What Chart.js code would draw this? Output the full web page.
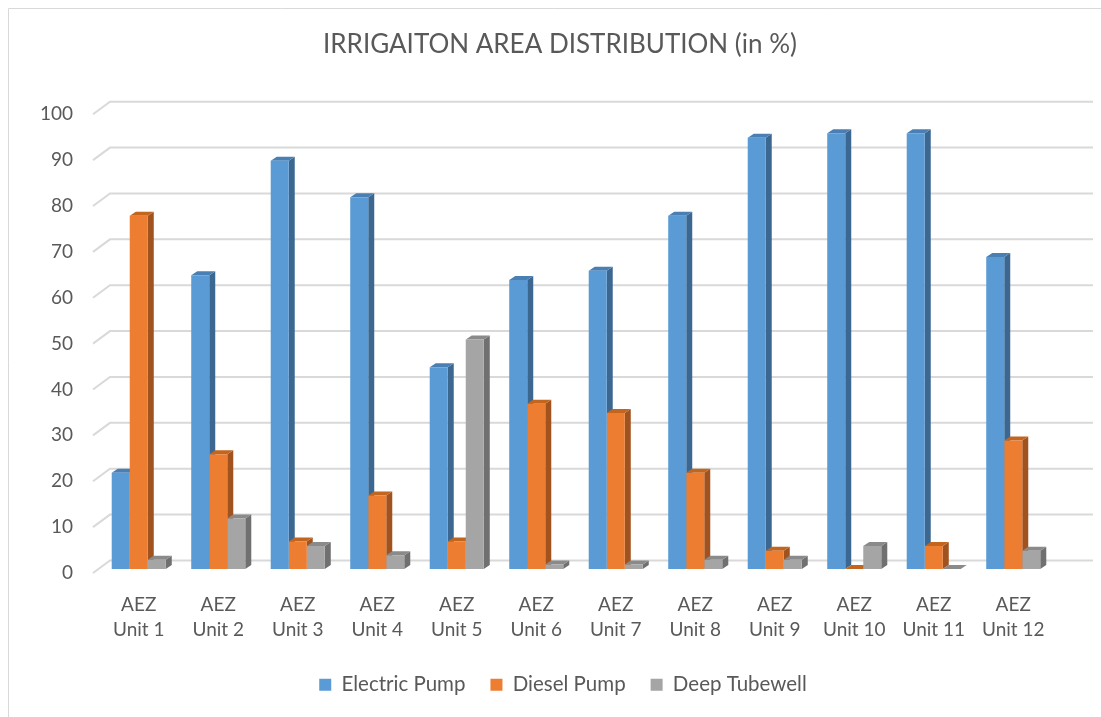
<!DOCTYPE html>
<html>
<head>
<meta charset="utf-8">
<script src="https://cdn.jsdelivr.net/npm/chart.js@4/dist/chart.umd.min.js"></script>
<style>
  html, body { margin: 0; padding: 0; background: #fff; }
  #wrap { width: 1101px; height: 717px; }
</style>
</head>
<body>
<div id="wrap"><canvas id="irrigationChart" width="1101" height="717"></canvas></div>
<script>
const units = ['Unit 1', 'Unit 2', 'Unit 3', 'Unit 4', 'Unit 5', 'Unit 6',
    'Unit 7', 'Unit 8', 'Unit 9', 'Unit 10', 'Unit 11', 'Unit 12'];
const electricPump = [21, 64, 89, 81, 44, 63, 65, 77, 94, 95, 95, 68];
const dieselPump = [77, 25, 6, 16, 6, 36, 34, 21, 4, 0, 5, 28];
const deepTubewell = [2, 11, 5, 3, 50, 1, 1, 2, 2, 5, 0, 4];
const yTicks = [0, 10, 20, 30, 40, 50, 60, 70, 80, 90, 100];

const frontColors = ['#5b9bd5', '#ed7d31', '#a5a5a5'];
const sideColors = ['#3b6791', '#a0531f', '#707070'];
const topColors = ['#4a7fb3', '#c2651f', '#8a8a8a'];
const textColor = '#595959';
const fontFamily = 'Lato, "Open Sans", sans-serif';

// fake 3d: back-wall grid lines and bar side/top faces
const depthPlugin = {
    id: 'depth3d',
    afterLayout(chart) {
        // title and legend sit centred on the whole frame, not the padded box
        chart.titleBlock.left += 67;
        chart.legend.left += 73;
    },
    beforeDatasetsDraw(chart) {
        const ctx = chart.ctx;
        const area = chart.chartArea;
        const yScale = chart.scales.y;
        ctx.save();
        ctx.strokeStyle = '#d9d9d9';
        ctx.lineWidth = 2;
        yTicks.forEach(v => {
            const y = yScale.getPixelForValue(v);
            ctx.beginPath();
            ctx.moveTo(area.left - 6, y + 4);
            ctx.lineTo(area.left + 11, y - 8.5);
            ctx.lineTo(area.right + 40, y - 8.5);
            ctx.stroke();
        });

        const dx = 6, dy = 4;
        for (let i = 0; i < units.length; i++) {
            chart.data.datasets.forEach((ds, d) => {
                const bar = chart.getDatasetMeta(d).data[i];
                const half = bar.width / 2;
                const l = bar.x - half, r = bar.x + half;
                const t = bar.y, b = bar.base;
                ctx.fillStyle = sideColors[d];
                ctx.beginPath();
                ctx.moveTo(r, b);
                ctx.lineTo(r + dx, b - dy);
                ctx.lineTo(r + dx, t - dy);
                ctx.lineTo(r, t);
                ctx.closePath();
                ctx.fill();
                ctx.fillStyle = topColors[d];
                ctx.beginPath();
                ctx.moveTo(l, t);
                ctx.lineTo(l + dx, t - dy);
                ctx.lineTo(r + dx, t - dy);
                ctx.lineTo(r, t);
                ctx.closePath();
                ctx.fill();
            });
        }
        ctx.restore();
    },
    afterDraw(chart) {
        const ctx = chart.ctx;
        ctx.save();
        ctx.strokeStyle = '#d9d9d9';
        ctx.lineWidth = 1;
        ctx.beginPath();
        ctx.moveTo(8.5, 717);
        ctx.lineTo(8.5, 8.5);
        ctx.lineTo(1101, 8.5);
        ctx.stroke();
        ctx.restore();
    }
};

function chart() {
    const ctx = document.getElementById('irrigationChart').getContext('2d');
    new Chart(ctx, {
        type: 'bar',
        data: {
            labels: units.map(u => ['AEZ', u]),
            datasets: [
                { label: 'Electric Pump', data: electricPump, backgroundColor: frontColors[0] },
                { label: 'Diesel Pump', data: dieselPump, backgroundColor: frontColors[1] },
                { label: 'Deep Tubewell', data: deepTubewell, backgroundColor: frontColors[2] }
            ]
        },
        options: {
            responsive: false,
            animation: false,
            layout: { padding: { top: 0, left: 0, right: 48, bottom: 12 } },
            datasets: {
                bar: { categoryPercentage: 0.68, barPercentage: 1.0 }
            },
            scales: {
                x: {
                    grid: { display: false, drawTicks: false },
                    border: { display: false },
                    ticks: {
                        color: textColor,
                        padding: 23,
                        maxRotation: 0,
                        autoSkip: false,
                        font: { family: fontFamily, size: 19, lineHeight: 1.32 }
                    },
                    afterFit(scale) { scale.height = 80.5; }
                },
                y: {
                    min: 0,
                    max: 100,
                    grid: { display: false, drawTicks: false },
                    border: { display: false },
                    ticks: {
                        stepSize: 10,
                        color: textColor,
                        padding: 26,
                        labelOffset: 4,
                        font: { family: fontFamily, size: 19 }
                    },
                    afterFit(scale) { scale.width = 99; }
                }
            },
            plugins: {
                title: {
                    display: true,
                    text: 'IRRIGAITON AREA DISTRIBUTION (in %)',
                    color: textColor,
                    font: { family: fontFamily, size: 26, weight: 'normal' },
                    padding: { top: 29, bottom: 50 }
                },
                legend: {
                    position: 'bottom',
                    labels: {
                        color: textColor,
                        boxWidth: 12,
                        boxHeight: 12,
                        padding: 25,
                        font: { family: fontFamily, size: 20.5 }
                    }
                },
                tooltip: { enabled: false }
            }
        },
        plugins: [depthPlugin]
    });
}

window.onload = chart;
</script>
</body>
</html>
